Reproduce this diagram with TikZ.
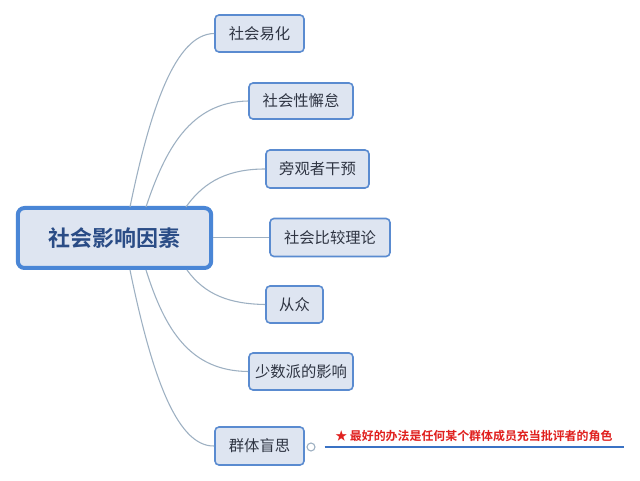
\documentclass[tikz,border=0pt]{standalone}
\usepackage{fontspec}
\newfontfamily\cjk{Noto Sans CJK SC}[BoldFont={Noto Sans CJK SC Bold}]
\definecolor{nodefill}{HTML}{DEE5F1}
\definecolor{nodeborder}{HTML}{5A8BD0}
\definecolor{mainborder}{HTML}{4A86D6}
\definecolor{txt}{HTML}{2E3442}
\definecolor{maintxt}{HTML}{2A4C86}
\definecolor{link}{HTML}{9DB0C2}
\definecolor{note}{HTML}{E0201E}
\definecolor{noteline}{HTML}{3A72C4}
\begin{document}
\begin{tikzpicture}[x=0.75pt,y=-0.75pt,
  child/.style={draw=nodeborder,fill=nodefill,line width=1.2pt,rounded corners=3pt,
    inner sep=0pt,font=\cjk\fontsize{11.5}{12}\selectfont,text=txt},
  mainnode/.style={draw=mainborder,fill=nodefill,line width=3pt,rounded corners=5pt,
    inner sep=0pt,font=\cjk\bfseries\fontsize{16.5}{18}\selectfont,text=maintxt,
    minimum width=145pt,minimum height=45pt},
  conn/.style={draw=link,line width=0.8pt}]
\useasboundingbox (0,0) rectangle (640,481);
\fill[white] (0,0) rectangle (640,481);
% central
\node[mainnode] (c) at (114.5,238) {社会影响因素};
% children
\node[child,minimum width=66.75pt,minimum height=27.75pt] (n1) at (259.5,33.5) {社会易化};
\node[child,minimum width=78pt,minimum height=27pt] (n2) at (301,101) {社会性懈怠};
\node[child,minimum width=77.25pt,minimum height=28.5pt] (n3) at (317.5,169) {旁观者干预};
\node[child,minimum width=90pt,minimum height=28.5pt] (n4) at (330,237.5) {社会比较理论};
\node[child,minimum width=42.75pt,minimum height=27.75pt] (n5) at (294.5,304.5) {从众};
\node[child,minimum width=78pt,minimum height=27.75pt] (n6) at (301,371.5) {少数派的影响};
\node[child,minimum width=66.75pt,minimum height=28.5pt] (n7) at (259.5,446) {群体盲思};
% origins on the central node border
\coordinate (o1) at (130,207);
\coordinate (o2) at (146,207);
\coordinate (o3) at (186,207);
\coordinate (o5) at (187,270);
\coordinate (o6) at (146,270);
\coordinate (o7) at (130,270);
% connectors
\draw[conn] (o1) .. controls (150,110) and (175,34) .. (n1.west);
\draw[conn] (o2) .. controls (165,150) and (190,102) .. (n2.west);
\draw[conn] (o3) .. controls (205,180) and (230,169) .. (n3.west);
\draw[conn] (c.east |- n4.west) -- (n4.west);
\draw[conn] (o5) .. controls (205,295) and (230,304) .. (n5.west);
\draw[conn] (o6) .. controls (165,330) and (190,371) .. (n6.west);
\draw[conn] (o7) .. controls (150,367) and (175,447) .. (n7.west);
% note
\node[draw=link,fill=white,line width=0.8pt,circle,minimum size=6pt,inner sep=0pt] (k) at (311,447) {};
\coordinate (le) at (624,447);
\draw[noteline,line width=1.6pt] (k.east) ++(9,0) coordinate (ls) -- (le);
\node[anchor=west,inner sep=0pt,text=note,font=\cjk\bfseries\fontsize{8.95}{10}\selectfont] (t) at (335,436) {★ 最好的办法是任何某个群体成员充当批评者的角色};
\end{tikzpicture}
\end{document}
